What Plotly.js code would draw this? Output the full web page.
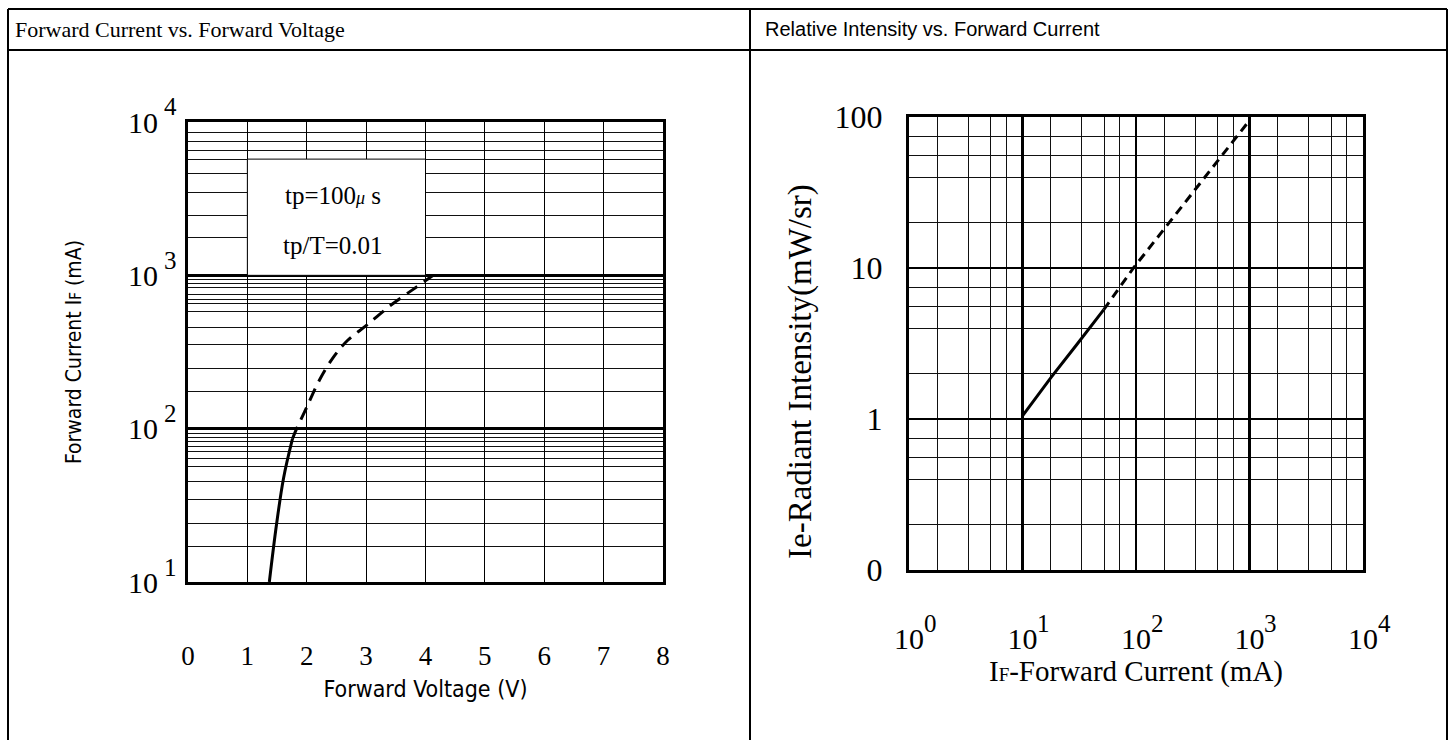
<!DOCTYPE html>
<html><head><meta charset="utf-8">
<script src="https://cdn.plot.ly/plotly-3.0.1.min.js"></script>
<style>html,body{margin:0;padding:0;background:#fff}#chart{width:1456px;height:740px}</style>
</head><body><div id="chart"></div>
<script>
// ---- data: Forward current vs forward voltage ----
const fvSolidV = [1.37, 1.49, 1.61, 1.76];
const fvSolidI = [10, 23.6, 47.7, 86];
const fvDashV = [1.76, 1.83, 2.0, 2.21, 2.45, 2.69, 3.01, 3.42, 3.78, 4.13];
const fvDashI = [86, 100, 138, 206, 293, 377, 473, 641, 804, 1000];
// ---- data: Radiant intensity vs forward current ----
const ieSolidI = [10, 18, 30, 52];
const ieSolidE = [1.05, 1.9, 3.1, 5.3];
const ieDashI = [52, 95, 300, 1000];
const ieDashE = [5.3, 10, 30, 95];
// ---- tick labels ----
const fvXTicks = [0, 1, 2, 3, 4, 5, 6, 7, 8];
const fvYTicks = [10, 100, 1000, 10000];
const fvYBase = ['10', '10', '10', '10'];
const fvYExp = ['1', '2', '3', '4'];
const fvYMinor = [17.1, 24.2, 34.4, 45.3, 56.4, 63.8, 71.3, 76.9, 83.0, 87.3, 93.1,
                  176, 247, 352, 459, 578, 652, 697, 746, 839, 891, 942,
                  1762, 2460, 3491, 4634, 5728, 6501, 7499, 8590];
const ieXTicks = [1, 10, 100, 1000, 10000];
const ieXBase = ['10', '10', '10', '10', '10'];
const ieXExp = ['0', '1', '2', '3', '4'];
const ieXMinor = [1.78, 3.31, 5.25, 7.16, 17.8, 33.1, 52.5, 71.6, 178, 331, 525, 716, 1780, 3310, 5250, 7160];
const ieYTicks = [0.1, 1, 10, 100];
const ieYText = ['0', '1', '10', '100'];
const ieYMinor = [0.199, 0.395, 0.56, 0.745, 1.99, 3.95, 5.6, 7.45, 19.9, 39.5, 56, 74.5];
const boxText1 = 'tp=100<span style="font-size:18px;font-style:italic">μ</span> s';
const boxText2 = 'tp/T=0.01';

const W = 1456, H = 740;
const px = v => v / W, py = v => 1 - v / H;
const SERIF = 'Liberation Serif, Times New Roman, serif';
const NARROW = 'Liberation Sans Narrow, DejaVu Sans Condensed, Arial Narrow, sans-serif';
const SANS = 'Liberation Sans, Arial, sans-serif';

const traces = [
  {x: fvSolidV, y: fvSolidI, xaxis: 'x', yaxis: 'y', mode: 'lines', line: {color: '#000', width: 3, shape: 'spline'}},
  {x: fvDashV, y: fvDashI, xaxis: 'x', yaxis: 'y', mode: 'lines', line: {color: '#000', width: 3, dash: '13px,8px', shape: 'spline'}},
  {x: ieSolidI, y: ieSolidE, xaxis: 'x2', yaxis: 'y2', mode: 'lines', line: {color: '#000', width: 3}},
  {x: ieDashI, y: ieDashE, xaxis: 'x2', yaxis: 'y2', mode: 'lines', line: {color: '#000', width: 3, dash: '9px,6px'}}
];

const frame = {showline: true, mirror: true, linecolor: '#000', linewidth: 3, zeroline: false, ticks: '', fixedrange: true};

const annotations = [
  {xref: 'paper', yref: 'paper', x: px(13), y: py(29), xanchor: 'left', yanchor: 'middle', showarrow: false,
   text: 'Forward Current vs. Forward Voltage', font: {family: SERIF, size: 22, color: '#000'}},
  {xref: 'paper', yref: 'paper', x: px(763), y: py(29), xanchor: 'left', yanchor: 'middle', showarrow: false,
   text: 'Relative Intensity vs. Forward Current', font: {family: SANS, size: 20, color: '#000'}},
  {xref: 'x', yref: 'y', x: 2.45, y: Math.log10(3340), xanchor: 'center', yanchor: 'middle', showarrow: false, text: boxText1, font: {family: SERIF, size: 25, color: '#000'}},
  {xref: 'x', yref: 'y', x: 2.45, y: Math.log10(1577), xanchor: 'center', yanchor: 'middle', showarrow: false, text: boxText2, font: {family: SERIF, size: 25, color: '#000'}},
  {xref: 'paper', yref: 'paper', x: px(800), y: py(372), xanchor: 'center', yanchor: 'middle', textangle: -90, showarrow: false,
   text: 'Ie-Radiant Intensity(mW/sr)', font: {family: SERIF, size: 33, color: '#000'}}
];
// exponents of the power-of-ten tick labels
fvYTicks.forEach((v, i) => annotations.push({
  xref: 'paper', yref: 'y', x: px(170), y: Math.log10(v), yshift: 15, xanchor: 'center', yanchor: 'middle', showarrow: false,
  text: fvYExp[i], font: {family: SERIF, size: 25, color: '#000'}
}));
ieXTicks.forEach((v, i) => annotations.push({
  xref: 'x2', yref: 'paper', x: Math.log10(v), xshift: 21, y: py(623), xanchor: 'center', yanchor: 'middle', showarrow: false,
  text: ieXExp[i], font: {family: SERIF, size: 25, color: '#000'}
}));

const layout = {
  width: W, height: H, margin: {l: 0, r: 0, t: 0, b: 0}, showlegend: false,
  paper_bgcolor: '#fff', plot_bgcolor: '#fff',
  xaxis: Object.assign({}, frame, {
    domain: [px(188), px(663)], range: [0, 8], tickvals: fvXTicks,
    showgrid: true, gridcolor: '#000', gridwidth: 1,
    tickfont: {family: SERIF, size: 27, color: '#000'}, ticklabelstandoff: 48,
    title: {text: 'Forward Voltage (V)', font: {family: NARROW, size: 23, color: '#000'}, standoff: 11}
  }),
  yaxis: Object.assign({}, frame, {
    domain: [py(582), py(122)], type: 'log', range: [1, 4], tickvals: fvYTicks, ticktext: fvYBase,
    showgrid: true, gridcolor: '#000', gridwidth: 3,
    minor: {tickvals: fvYMinor, showgrid: true, gridcolor: '#111', gridwidth: 1, ticks: ''},
    tickfont: {family: SERIF, size: 30, color: '#000'}, ticklabelstandoff: 21,
    title: {text: 'Forward Current I<span style="font-size:15px">F</span> (mA)', font: {family: NARROW, size: 21, color: '#000'}, standoff: 41}
  }),
  xaxis2: Object.assign({}, frame, {
    anchor: 'y2', domain: [px(909), px(1363)], type: 'log', range: [0, 4], tickvals: ieXTicks, ticktext: ieXBase,
    showgrid: true, gridcolor: '#000', gridwidth: 2.5,
    minor: {tickvals: ieXMinor, showgrid: true, gridcolor: '#111', gridwidth: 1, ticks: ''},
    tickfont: {family: SERIF, size: 30, color: '#000'}, ticklabelstandoff: 40,
    title: {text: 'I<span style="font-size:19px">F</span>-Forward Current (mA)', font: {family: SERIF, size: 29, color: '#000'}, standoff: 0}
  }),
  yaxis2: Object.assign({}, frame, {
    anchor: 'x2', domain: [py(570), py(117)], type: 'log', range: [-1, 2], tickvals: ieYTicks, ticktext: ieYText,
    showgrid: true, gridcolor: '#000', gridwidth: 2.5,
    minor: {tickvals: ieYMinor, showgrid: true, gridcolor: '#111', gridwidth: 1, ticks: ''},
    tickfont: {family: SERIF, size: 32, color: '#000'}, ticklabelstandoff: 17
  }),
  shapes: [
    {type: 'line', xref: 'paper', yref: 'paper', x0: px(8), x1: px(1447), y0: py(9), y1: py(9), line: {color: '#000', width: 2}},
    {type: 'line', xref: 'paper', yref: 'paper', x0: px(8), x1: px(1447), y0: py(50), y1: py(50), line: {color: '#000', width: 2}},
    {type: 'line', xref: 'paper', yref: 'paper', x0: px(8), x1: px(8), y0: py(9), y1: 0, line: {color: '#000', width: 2}},
    {type: 'line', xref: 'paper', yref: 'paper', x0: px(750), x1: px(750), y0: py(9), y1: 0, line: {color: '#000', width: 2}},
    {type: 'line', xref: 'paper', yref: 'paper', x0: px(1447), x1: px(1447), y0: py(9), y1: 0, line: {color: '#000', width: 2}},
    {type: 'rect', xref: 'x', yref: 'y', x0: 1, x1: 4, y0: 1000, y1: 5728, fillcolor: '#fff', line: {color: '#000', width: 1}, layer: 'between'}
  ],
  annotations: annotations
};

Plotly.newPlot('chart', traces, layout, {staticPlot: true, displayModeBar: false});
</script>
</body></html>
